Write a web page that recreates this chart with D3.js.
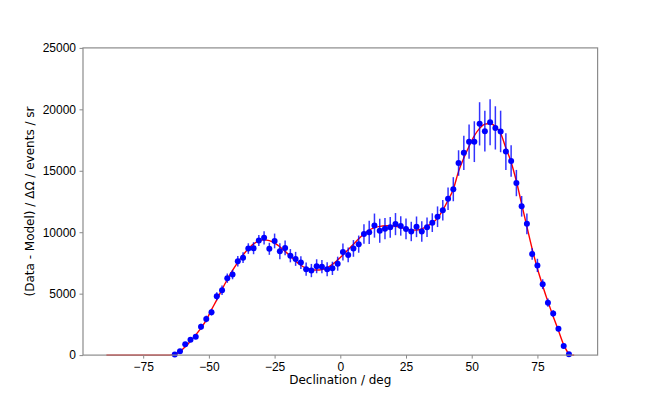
<!DOCTYPE html>
<html>
  <head>
    <meta charset="UTF-8" />
    <title>Declination residuals</title>
    <script src="https://d3js.org/d3.v7.min.js"></script>
    <style>
      body {
        margin: 0;
        background-color: #fff;
      }
      svg {
        display: block;
        font-family: "DejaVu Sans", sans-serif;
      }
      .tick text {
        font-size: 12px;
        fill: #000;
      }
      .axis-label {
        font-size: 12px;
        fill: #000;
      }
    </style>
  </head>
  <body>
    <div id="chart"></div>

    <script>
      // binned data points (deg, events / sr)
      const declination = [
        -63, -61, -59, -57, -55, -53, -51, -49, -47, -45, -43, -41, -39, -37,
        -35, -33, -31, -29, -27, -25, -23, -21, -19, -17, -15, -13, -11, -9,
        -7, -5, -3, -1, 1, 3, 5, 7, 9, 11, 13, 15, 17, 19, 21, 23, 25, 27, 29,
        31, 33, 35, 37, 39, 41, 43, 45, 47, 49, 51, 53, 55, 57, 59, 61, 63, 65,
        67, 69, 71, 73, 75, 77, 79, 81, 83, 85, 87,
      ];
      const residual = [
        40, 320, 880, 1250, 1500, 2310, 2940, 3490, 4790, 5280, 6260, 6550,
        7640, 7930, 8670, 8700, 9320, 9540, 8650, 9290, 8450, 8720, 8090, 7830,
        7530, 6990, 6880, 7230, 7200, 6990, 7060, 7440, 8390, 8150, 8680, 9030,
        9850, 9990, 10540, 10120, 10290, 10400, 10660, 10510, 10270, 10060,
        10440, 10060, 10400, 10780, 11260, 11790, 12720, 13500, 15630, 16460,
        17370, 17370, 18820, 18220, 18950, 18490, 18200, 16560, 15790, 14000,
        12110, 10680, 8230, 7300, 5770, 4270, 3390, 2140, 750, 60,
      ];
      const residualErr = [
        50, 110, 160, 160, 190, 240, 270, 270, 330, 380, 380, 380, 430, 430,
        430, 490, 450, 540, 490, 600, 650, 600, 540, 570, 520, 540, 540, 570,
        540, 570, 540, 570, 700, 600, 680, 700, 790, 950, 980, 980, 870, 840,
        900, 790, 840, 790, 840, 840, 790, 760, 840, 840, 920, 980, 1040, 1400,
        1390, 1660, 1760, 1660, 1870, 1760, 1690, 1490, 1280, 1070, 840, 840,
        470, 540, 400, 330, 270, 220, 160, 100,
      ];

      // fitted model curve
      const modelDec = [
        -89, -65, -63, -61, -59, -57, -55, -53, -51, -49, -47, -45, -43, -41,
        -39, -37, -35, -33, -31, -29, -27, -25, -23, -21, -19, -17, -15, -13,
        -11, -9, -7, -5, -3, -1, 1, 3, 5, 7, 9, 11, 13, 15, 17, 19, 21, 23, 25,
        27, 29, 31, 33, 35, 37, 39, 41, 43, 45, 47, 49, 51, 53, 55, 57, 59, 61,
        63, 65, 67, 69, 71, 73, 75, 77, 79, 81, 83, 85, 87, 88, 89,
      ];
      const modelValue = [
        0, 0, 60, 280, 680, 1130, 1650, 2200, 2850, 3700, 4500, 5350, 6150,
        6900, 7550, 8150, 8650, 9050, 9300, 9380, 9310, 9120, 8820, 8440, 8040,
        7650, 7310, 7070, 6950, 6920, 6960, 7100, 7380, 7750, 8150, 8580, 9020,
        9460, 9860, 10170, 10370, 10480, 10530, 10530, 10480, 10380, 10270,
        10180, 10170, 10260, 10490, 10750, 11150, 11800, 12600, 13500, 14950,
        16050, 17000, 17850, 18450, 18800, 18850, 18600, 18050, 16850, 15700,
        14150, 12300, 10450, 8650, 7050, 5650, 4350, 3150, 2000, 850, 100, 0, 0,
      ];

      const yTicks = [0, 5000, 10000, 15000, 20000, 25000];
      const xTicks = [-75, -50, -25, 0, 25, 50, 75];

      const width = 664;
      const height = 399;
      const margin = { top: 47.9, right: 66.4, bottom: 43.9, left: 83 };

      const svg = d3
        .select("#chart")
        .append("svg")
        .attr("width", width)
        .attr("height", height);

      const x = d3
        .scaleLinear()
        .domain([-97.9, 97.9])
        .range([margin.left, width - margin.right]);

      const y = d3
        .scaleLinear()
        .domain([0, 25000])
        .range([height - margin.bottom, margin.top]);

      const points = declination.map((d, i) => ({
        dec: d,
        value: residual[i],
        err: residualErr[i],
      }));
      const model = modelDec.map((d, i) => ({ dec: d, value: modelValue[i] }));

      // model line
      const line = d3
        .line()
        .x((d) => x(d.dec))
        .y((d) => y(d.value))
        .curve(d3.curveMonotoneX);

      svg
        .append("path")
        .datum(model)
        .attr("fill", "none")
        .attr("stroke", "red")
        .attr("stroke-width", 1.4)
        .attr("d", line);

      // error bars
      svg
        .append("g")
        .selectAll("line")
        .data(points)
        .enter()
        .append("line")
        .attr("x1", (d) => x(d.dec))
        .attr("x2", (d) => x(d.dec))
        .attr("y1", (d) => y(Math.max(0, d.value - d.err)))
        .attr("y2", (d) => y(d.value + d.err))
        .attr("stroke", "blue")
        .attr("stroke-opacity", 0.8)
        .attr("stroke-width", 1.5);

      svg
        .append("g")
        .selectAll("circle")
        .data(points)
        .enter()
        .append("circle")
        .attr("cx", (d) => x(d.dec))
        .attr("cy", (d) => y(d.value))
        .attr("r", 3)
        .attr("fill", "blue");

      // axes
      const xAxis = svg
        .append("g")
        .attr("transform", `translate(0,${height - margin.bottom})`)
        .call(d3.axisBottom(x).tickValues(xTicks).tickSize(3.5).tickPadding(3.5));

      const yAxis = svg
        .append("g")
        .attr("transform", `translate(${margin.left},0)`)
        .call(d3.axisLeft(y).tickValues(yTicks).tickFormat(d3.format("d")).tickSize(3.5).tickPadding(3.5));

      [xAxis, yAxis].forEach((g) => {
        g.select(".domain").remove();
        g.selectAll(".tick line").attr("stroke", "#888");
        g.selectAll(".tick text").attr("font-family", null).attr("font-size", null);
      });

      // frame
      svg
        .append("rect")
        .attr("x", margin.left)
        .attr("y", margin.top)
        .attr("width", width - margin.left - margin.right)
        .attr("height", height - margin.top - margin.bottom)
        .attr("fill", "none")
        .attr("stroke", "#8c8c8c")
        .attr("stroke-width", 1.2);

      svg
        .append("text")
        .attr("class", "axis-label")
        .attr("x", x(0))
        .attr("y", 384)
        .attr("text-anchor", "middle")
        .text("Declination / deg");

      svg
        .append("text")
        .attr("class", "axis-label")
        .attr("transform", `translate(34,${(margin.top + height - margin.bottom) / 2}) rotate(-90)`)
        .attr("text-anchor", "middle")
        .text("(Data - Model) / ΔΩ / events / sr");
    </script>
  </body>
</html>
